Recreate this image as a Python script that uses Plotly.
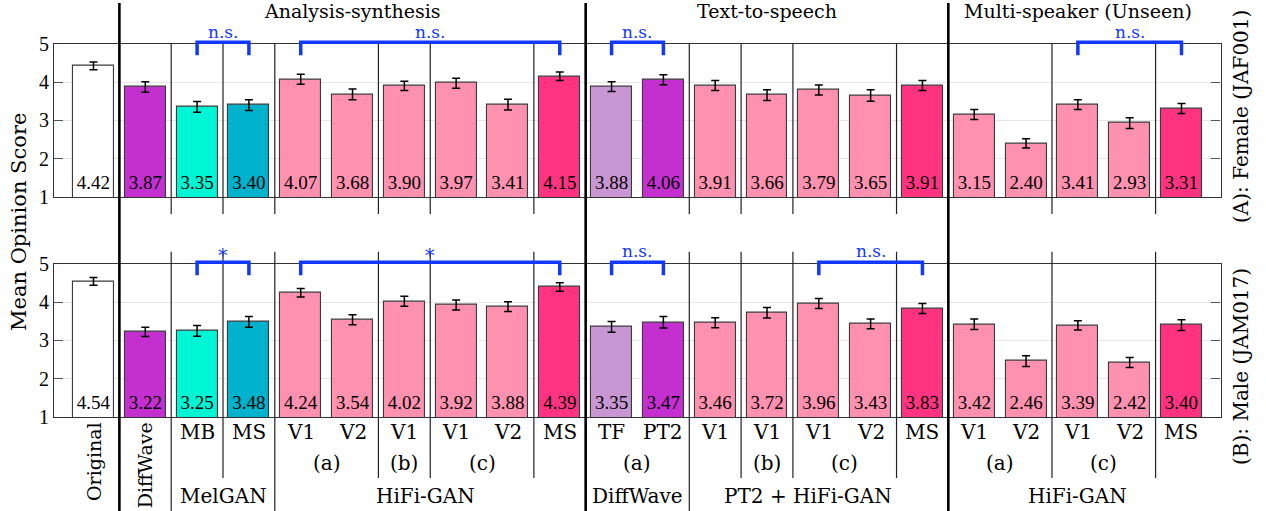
import plotly.graph_objects as go

# ---------------- data ----------------
categories = ["Original", "DiffWave", "MB", "MS", "V1", "V2", "V1", "V1", "V2", "MS",
              "TF", "PT2", "V1", "V1", "V1", "V2", "MS",
              "V1", "V2", "V1", "V2", "MS"]
female_mos = [4.42, 3.87, 3.35, 3.40, 4.07, 3.68, 3.90, 3.97, 3.41, 4.15,
              3.88, 4.06, 3.91, 3.66, 3.79, 3.65, 3.91,
              3.15, 2.40, 3.41, 2.93, 3.31]
female_ci = [0.10, 0.14, 0.14, 0.14, 0.13, 0.14, 0.12, 0.13, 0.14, 0.11,
             0.13, 0.13, 0.13, 0.14, 0.13, 0.15, 0.13,
             0.13, 0.12, 0.13, 0.14, 0.13]
male_mos = [4.54, 3.22, 3.25, 3.48, 4.24, 3.54, 4.02, 3.92, 3.88, 4.39,
            3.35, 3.47, 3.46, 3.72, 3.96, 3.43, 3.83,
            3.42, 2.46, 3.39, 2.42, 3.40]
male_ci = [0.10, 0.12, 0.14, 0.14, 0.11, 0.13, 0.13, 0.13, 0.13, 0.11,
           0.14, 0.15, 0.13, 0.14, 0.13, 0.13, 0.13,
           0.14, 0.14, 0.12, 0.13, 0.14]
bar_colors = ["#FFFFFF", "#C430D0", "#00F5D4", "#00B2CC", "#FF91B0", "#FF91B0", "#FF91B0",
              "#FF91B0", "#FF91B0", "#FF3380",
              "#C896D2", "#C430D0", "#FF91B0", "#FF91B0", "#FF91B0", "#FF91B0", "#FF3380",
              "#FF91B0", "#FF91B0", "#FF91B0", "#FF91B0", "#FF3380"]
rotated_labels = {0: "Original", 1: "DiffWave"}
sub_labels = [(4.5, "(a)"), (6, "(b)"), (7.5, "(c)"), (10.5, "(a)"), (13, "(b)"),
              (14.5, "(c)"), (17.5, "(a)"), (19.5, "(c)")]
group_labels = [(2.5, "MelGAN"), (6.4, "HiFi-GAN"), (10.5, "DiffWave"),
                (13.8, "PT2 + HiFi-GAN"), (19.0, "HiFi-GAN")]
panel_titles = [(5, "Analysis-synthesis"), (13, "Text-to-speech"), (19, "Multi-speaker (Unseen)")]
female_sig = [(2, 3, "n.s."), (4, 9, "n.s."), (10, 11, "n.s."), (19, 21, "n.s.")]
male_sig = [(2, 3, "*"), (4, 9, "*"), (10, 11, "n.s."), (14, 16, "n.s.")]
thick_seps = [0.5, 9.5, 16.5]
thin_seps_long = [1.5, 3.5, 11.5]
thin_seps_short = [2.5, 5.5, 6.5, 8.5, 12.5, 13.5, 15.5, 18.5, 20.5]

# ---------------- layout geometry ----------------
W, H = 1266, 511
WORD_FONT = "DejaVu Serif"
NUM_FONT = "Liberation Serif"
BLUE = "#1238FF"
xs = list(range(len(categories)))


def py(px):
    return 1 - px / H


XDOM = [54 / W, 1220.5 / W]
XR = [-0.762, 21.753]
TOP_DOM = [py(197), py(43.7)]
BOT_DOM = [py(417), py(263.7)]
YR = [1, 5]


def ydom(v):
    return (v - YR[0]) / (YR[1] - YR[0])


fig = go.Figure()

for mos, ci, xa, ya in [(female_mos, female_ci, "x", "y"), (male_mos, male_ci, "x2", "y2")]:
    fig.add_trace(go.Bar(
        x=xs, y=mos, width=0.79, xaxis=xa, yaxis=ya,
        marker=dict(color=bar_colors, line=dict(color="#3a3a3a", width=1.1)),
        error_y=dict(type="data", array=ci, color="black", thickness=1.5, width=4),
        showlegend=False,
    ))
    fig.add_trace(go.Scatter(
        x=xs, y=[1.33] * len(xs), xaxis=xa, yaxis=ya, mode="text",
        text=[f"{v:.2f}" for v in mos],
        textfont=dict(family=NUM_FONT, size=19, color="black"),
        showlegend=False, hoverinfo="skip",
    ))

shapes = []
annotations = []

# separators
for x in thick_seps:
    shapes.append(dict(type="line", xref="x", yref="paper", x0=x, x1=x, y0=py(511), y1=py(3),
                       line=dict(color="black", width=2.6)))
for x in thin_seps_long + thin_seps_short:
    shapes.append(dict(type="line", xref="x", yref="paper", x0=x, x1=x, y0=py(214), y1=py(43.7),
                       line=dict(color="#222222", width=1.2)))
for x in thin_seps_long:
    shapes.append(dict(type="line", xref="x2", yref="paper", x0=x, x1=x, y0=py(511), y1=py(251.7),
                       line=dict(color="#222222", width=1.2)))
for x in thin_seps_short:
    shapes.append(dict(type="line", xref="x2", yref="paper", x0=x, x1=x, y0=py(478), y1=py(251.7),
                       line=dict(color="#222222", width=1.2)))

# significance brackets
for sig, xa, ya, label_px in [(female_sig, "x", "y", 32), (male_sig, "x2", "y2", 251)]:
    for a, b, lab in sig:
        yref = ya + " domain"
        path = f"M {a},{ydom(4.70)} L {a},{ydom(5.04)} L {b},{ydom(5.04)} L {b},{ydom(4.70)}"
        shapes.append(dict(type="path", xref=xa, yref=yref, path=path,
                           line=dict(color=BLUE, width=3.5)))
        ypx = label_px + (4 if lab == "*" else 0)
        annotations.append(dict(x=(a + b) / 2, y=py(ypx), xref=xa, yref="paper",
                                text=lab, showarrow=False, yanchor="middle",
                                font=dict(family=WORD_FONT, size=19 if lab == "*" else 17,
                                          color=BLUE)))

# x tick labels (bottom panel)
for i, lab in enumerate(categories):
    if i in rotated_labels:
        annotations.append(dict(x=i, y=py(420), xref="x2", yref="paper", text=rotated_labels[i],
                                textangle=-90, showarrow=False, xanchor="center", yanchor="top",
                                font=dict(family=WORD_FONT, size=19, color="black")))
    else:
        annotations.append(dict(x=i, y=py(432), xref="x2", yref="paper", text=lab,
                                showarrow=False, xanchor="center", yanchor="middle",
                                font=dict(family=WORD_FONT, size=20, color="black")))
for x, lab in sub_labels:
    annotations.append(dict(x=x, y=py(463), xref="x2", yref="paper", text=lab, showarrow=False,
                            yanchor="middle", font=dict(family=WORD_FONT, size=20, color="black")))
for x, lab in group_labels:
    annotations.append(dict(x=x, y=py(496), xref="x2", yref="paper", text=lab, showarrow=False,
                            yanchor="middle", font=dict(family=WORD_FONT, size=20, color="black")))
for x, lab in panel_titles:
    annotations.append(dict(x=x, y=py(11), xref="x", yref="paper", text=lab, showarrow=False,
                            yanchor="middle", font=dict(family=WORD_FONT, size=19, color="black")))

# axis titles
annotations.append(dict(x=19 / W, y=py(222), xref="paper", yref="paper", text="Mean Opinion Score",
                        textangle=-90, showarrow=False, xanchor="center", yanchor="middle",
                        font=dict(family=WORD_FONT, size=21, color="black")))
annotations.append(dict(x=1241 / W, y=py(117), xref="paper", yref="paper", text="(A): Female (JAF001)",
                        textangle=-90, showarrow=False, xanchor="center", yanchor="middle",
                        font=dict(family=WORD_FONT, size=20, color="black")))
annotations.append(dict(x=1241 / W, y=py(367), xref="paper", yref="paper", text="(B): Male (JAM017)",
                        textangle=-90, showarrow=False, xanchor="center", yanchor="middle",
                        font=dict(family=WORD_FONT, size=20, color="black")))

xaxis_common = dict(domain=XDOM, range=XR, showgrid=False, zeroline=False, showticklabels=False,
                    ticks="", showline=True, mirror=True, linecolor="#333333", linewidth=1.2,
                    fixedrange=True, automargin=False)
yaxis_common = dict(range=YR, tickvals=[1, 2, 3, 4, 5], ticks="inside", ticklen=9,
                    tickcolor="#555555", showline=True, mirror="ticks", linecolor="#333333",
                    linewidth=1.2, showgrid=True, gridcolor="#e6e6e6", zeroline=False,
                    tickfont=dict(family=NUM_FONT, size=20, color="black"), fixedrange=True,
                    automargin=False)

fig.update_layout(
    width=W, height=H,
    margin=dict(l=0, r=0, t=0, b=0, pad=0, autoexpand=False),
    paper_bgcolor="white", plot_bgcolor="white",
    xaxis=dict(anchor="y", **xaxis_common),
    yaxis=dict(anchor="x", domain=TOP_DOM, **yaxis_common),
    xaxis2=dict(anchor="y2", **xaxis_common),
    yaxis2=dict(anchor="x2", domain=BOT_DOM, **yaxis_common),
    shapes=shapes,
    annotations=annotations,
    bargap=0,
    font=dict(family=WORD_FONT),
)

fig.write_html(
    "out.html",
    config={"displayModeBar": False},
    post_script="document.body.style.margin='0px';document.body.style.overflow='hidden';",
)
